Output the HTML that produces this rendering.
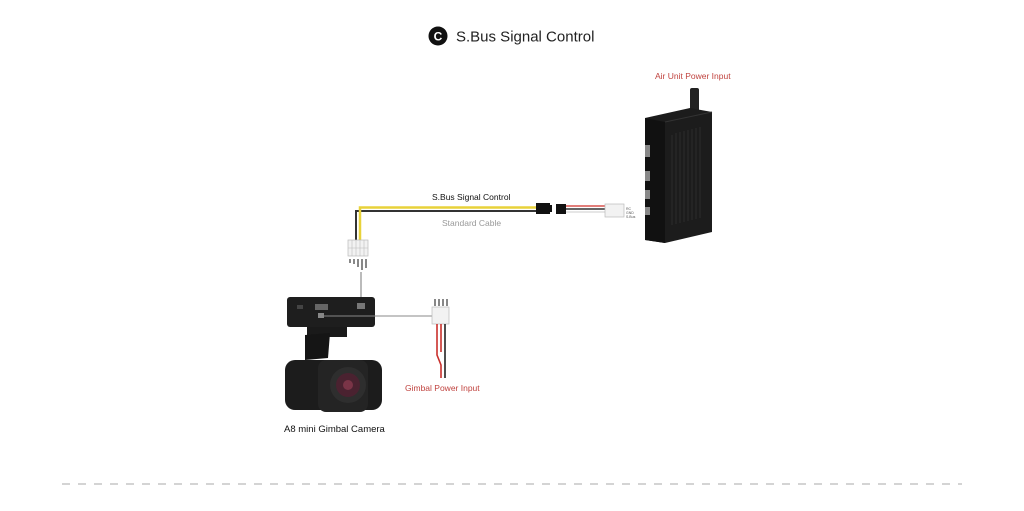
<!DOCTYPE html>
<html><head><meta charset="utf-8"><style>
html,body{margin:0;padding:0;background:#fff;}
svg{display:block;font-family:"Liberation Sans",sans-serif;}
</style></head><body>
<svg width="1024" height="511" viewBox="0 0 1024 511" xmlns="http://www.w3.org/2000/svg">
<rect width="1024" height="511" fill="#fff"/>
<!-- title -->
<circle cx="438" cy="36" r="9.5" fill="#111"/>
<text x="438" y="40.5" font-size="12" font-weight="bold" fill="#fff" text-anchor="middle">C</text>
<text x="456" y="41.5" font-size="15" fill="#222">S.Bus Signal Control</text>

<!-- air unit -->
<text x="655" y="79" font-size="8.5" fill="#c0433f">Air Unit Power Input</text>
<rect x="690" y="88" width="9" height="26" rx="2" fill="#222"/>
<path d="M645 118 L690 108 L712 112 L712 232 L665 243 L645 240 Z" fill="#1c1c1c"/>
<path d="M645 118 L665 122 L665 243 L645 240 Z" fill="#111"/>
<path d="M665 122 L712 112" stroke="#333" stroke-width="1"/>
<g stroke="#2b2b2b" stroke-width="1">
<line x1="672" y1="135" x2="672" y2="225"/><line x1="676" y1="133" x2="676" y2="224"/><line x1="680" y1="132" x2="680" y2="223"/><line x1="684" y1="131" x2="684" y2="222"/><line x1="688" y1="130" x2="688" y2="221"/><line x1="692" y1="129" x2="692" y2="220"/><line x1="696" y1="128" x2="696" y2="219"/><line x1="700" y1="127" x2="700" y2="218"/>
</g>
<g fill="#888"><rect x="645" y="145" width="5" height="12"/><rect x="645" y="171" width="5" height="10"/><rect x="645" y="190" width="5" height="9"/><rect x="645" y="207" width="5" height="8"/></g>

<!-- S.Bus cable -->
<text x="432" y="200" font-size="8.5" fill="#111">S.Bus Signal Control</text>
<text x="442" y="226" font-size="8.5" fill="#999">Standard Cable</text>
<polyline points="356,241 356,211 537,211" fill="none" stroke="#333" stroke-width="2"/>
<polyline points="360,241 360,207.5 537,207.5" fill="none" stroke="#e8d23a" stroke-width="2.5"/>
<rect x="536" y="203" width="14" height="11" fill="#111"/>
<rect x="548" y="205" width="4" height="7" fill="#111"/>
<rect x="556" y="204" width="10" height="10" fill="#111"/>
<line x1="566" y1="206" x2="605" y2="206" stroke="#d9534f" stroke-width="1.5"/>
<line x1="566" y1="209" x2="605" y2="209" stroke="#333" stroke-width="1.5"/>
<line x1="566" y1="212" x2="605" y2="212" stroke="#ddd" stroke-width="1.5"/>
<rect x="605" y="204" width="19" height="13" fill="#f2f2f2" stroke="#bbb" stroke-width="0.7"/>
<text x="626" y="210" font-size="3.5" fill="#555">RC</text><text x="626" y="214" font-size="3.5" fill="#555">GND</text><text x="626" y="218" font-size="3.5" fill="#555">S.Bus</text>

<!-- camera connector -->
<rect x="348" y="240" width="20" height="16" fill="#f2f2f2" stroke="#bbb" stroke-width="0.7"/>
<g stroke="#bbb" stroke-width="0.6"><line x1="352" y1="240" x2="352" y2="256"/><line x1="356" y1="240" x2="356" y2="256"/><line x1="360" y1="240" x2="360" y2="256"/><line x1="364" y1="240" x2="364" y2="256"/><line x1="348" y1="248" x2="368" y2="248"/></g>
<g fill="#888"><rect x="349" y="259" width="2" height="4"/><rect x="353" y="259" width="2" height="5"/><rect x="357" y="259" width="2" height="8"/><rect x="361" y="259" width="2" height="11"/><rect x="365" y="259" width="2" height="9"/></g>
<line x1="361" y1="272" x2="361" y2="303" stroke="#777" stroke-width="1"/>

<!-- camera -->
<rect x="287" y="297" width="88" height="30" rx="3" fill="#1e1e1e"/>
<rect x="315" y="304" width="13" height="6" fill="#666"/>
<rect x="297" y="305" width="6" height="4" fill="#444"/>
<rect x="318" y="313" width="6" height="5" fill="#888"/>
<rect x="357" y="303" width="8" height="6" fill="#777"/>
<rect x="307" y="327" width="40" height="10" fill="#1a1a1a"/>
<path d="M305 335 L330 333 L328 358 L305 360 Z" fill="#151515"/>
<rect x="285" y="360" width="97" height="50" rx="10" fill="#1c1c1c"/>
<rect x="318" y="360" width="50" height="52" rx="8" fill="#242424"/>
<circle cx="348" cy="385" r="18" fill="#2e2e2e"/>
<circle cx="348" cy="385" r="12" fill="#4a2230"/>
<circle cx="348" cy="385" r="5" fill="#7a3447"/>
<text x="284" y="432" font-size="9.5" fill="#111">A8 mini Gimbal Camera</text>

<!-- gimbal power -->
<line x1="322" y1="316" x2="432" y2="316" stroke="#888" stroke-width="1"/>
<g fill="#888"><rect x="434" y="299" width="2" height="7"/><rect x="438" y="299" width="2" height="7"/><rect x="442" y="299" width="2" height="7"/><rect x="446" y="299" width="2" height="7"/></g>
<rect x="432" y="307" width="17" height="17" fill="#f2f2f2" stroke="#bbb" stroke-width="0.7"/>
<path d="M437 324 L437 355 L441 365 L441 378" fill="none" stroke="#c9302c" stroke-width="1.6"/>
<path d="M441 324 L441 352" fill="none" stroke="#c9302c" stroke-width="1.6"/>
<path d="M445 324 L445 378" fill="none" stroke="#222" stroke-width="1.6"/>
<text x="405" y="391" font-size="8.5" fill="#c0433f">Gimbal Power Input</text>

<!-- dashed separator -->
<line x1="62" y1="484" x2="962" y2="484" stroke="#aaa" stroke-width="1" stroke-dasharray="8,8"/>
</svg>
</body></html>
